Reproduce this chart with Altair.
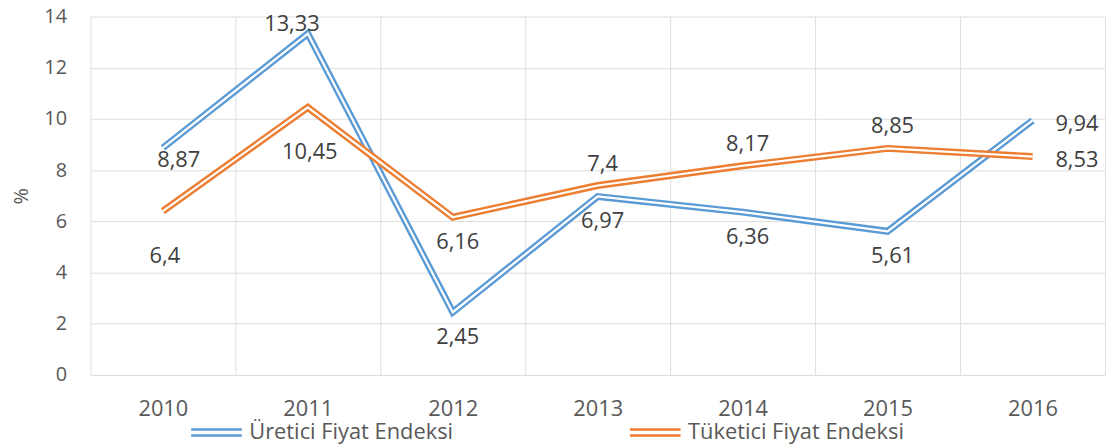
import altair as alt
import pandas as pd

years = ["2010", "2011", "2012", "2013", "2014", "2015", "2016"]
series_names = ["Üretici Fiyat Endeksi", "Tüketici Fiyat Endeksi"]
uretici = [8.87, 13.33, 2.45, 6.97, 6.36, 5.61, 9.94]
tuketici = [6.4, 10.45, 6.16, 7.4, 8.17, 8.85, 8.53]
uretici_label_pos = ["near", "peak", "below", "below", "below", "below", "right"]
tuketici_label_pos = ["low", "low", "below", "above", "above", "above", "right"]
y_ticks = [0, 2, 4, 6, 8, 10, 12, 14]
colors = ["#5B9BD5", "#ED7D31"]

rows = []
for name, vals, poss in zip(series_names, [uretici, tuketici], [uretici_label_pos, tuketici_label_pos]):
    for yr, v, p in zip(years, vals, poss):
        rows.append({"year": yr, "series": name, "value": v,
                     "label": f"{v:g}".replace(".", ","), "pos": p})
df = pd.DataFrame(rows)

FONT = "Open Sans"
GRID = "#DEDEDE"

x_enc = alt.X(
    "year:O",
    scale=alt.Scale(type="band", paddingInner=0, paddingOuter=0),
    axis=alt.Axis(title=None, tickBand="extent", grid=True, gridColor=GRID,
                  domainColor=GRID, ticks=False, labelAngle=0, labelFontSize=22,
                  labelColor="#595959", labelPadding=24, labelFont=FONT),
)
y_enc = alt.Y(
    "value:Q",
    scale=alt.Scale(domain=[0, 14], nice=False),
    axis=alt.Axis(values=y_ticks, title="%", grid=True, gridColor=GRID, domain=False,
                  ticks=False, labelFontSize=20, labelPadding=24, labelColor="#595959",
                  labelFont=FONT, titleFont=FONT, titleFontSize=20, titleColor="#595959",
                  titleFontWeight="normal", titlePadding=12),
)

color_enc = alt.Color(
    "series:N",
    scale=alt.Scale(domain=series_names, range=colors),
    legend=alt.Legend(title=None, orient="none", legendX=100, legendY=392,
                      direction="horizontal", symbolType="M-1,-0.12H1M-1,0.12H1",
                      symbolSize=2601, symbolStrokeWidth=2.5, labelFontSize=22,
                      labelColor="#595959", labelFont=FONT, columnPadding=172,
                      labelLimit=400, labelOffset=6),
)

base = alt.Chart(df)
layers = []
for name in series_names:
    s = base.transform_filter(alt.datum.series == name)
    layers.append(s.mark_line(strokeWidth=7, strokeJoin="miter", strokeCap="butt")
                  .encode(x=x_enc, y=y_enc, color=color_enc))
    layers.append(s.mark_line(strokeWidth=2.2, strokeJoin="miter", strokeCap="butt", color="white")
                  .encode(x=x_enc, y=y_enc))

text_style = dict(font=FONT, fontSize=22, color="#404040", baseline="middle")
offsets = {"below": dict(dy=25, dx=5, align="center"),
           "near": dict(dy=12, dx=16, align="center"),
           "above": dict(dy=-22, dx=5, align="center"),
           "peak": dict(dy=-10, dx=-16, align="center"),
           "low": dict(dy=45, dx=2, align="center"),
           "right": dict(dx=23, dy=4, align="left")}
for p, off in offsets.items():
    layers.append(base.transform_filter(alt.datum.pos == p)
                  .mark_text(**text_style, **off)
                  .encode(x=x_enc, y=y_enc, text="label:N"))

chart = alt.layer(*layers).properties(
    width=1022, height=361,
    autosize=alt.AutoSizeParams(type="none"),
    padding={"left": 83, "top": 7, "right": 2, "bottom": 72},
    background="white",
).configure_view(stroke=None)

chart.save("out.html", embed_options={"renderer": "svg", "actions": False})
